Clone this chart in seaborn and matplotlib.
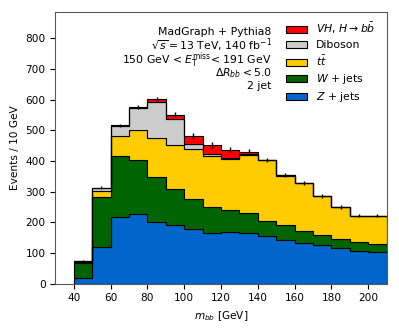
import numpy as np
import pandas as pd
import matplotlib
matplotlib.use("Agg")
import matplotlib.pyplot as plt
from matplotlib.patches import Patch
import seaborn as sns

# ---- data ----
bin_edges = list(range(40, 211, 10))
z_jets  = [18, 121, 217, 226, 202, 191, 177, 166, 168, 166, 155, 143, 133, 126, 117, 108, 102]
w_jets  = [50, 163, 200, 178, 145, 119,  98,  85,  73,  64,  51,  49,  40,  34,  29,  27,  26]
ttbar   = [ 3,  19,  66,  96, 128, 141, 164, 164, 164, 190, 196, 160, 155, 125, 103,  85,  92]
diboson = [ 2,   9,  32,  74, 118,  85,  18,   7,   6,   3,   1,   1,   1,   1,   1,   1,   1]
vh      = [ 2,   1,   1,   2,   8,  15,  24,  30,  26,   8, 0.5, 0.5, 0.5, 0.5, 0.5, 0.5, 0.5]
stat_err = [3, 5, 6, 6, 7, 9, 10, 10, 9, 8, 8, 7, 7, 6, 6, 5, 5]

labels = [r"$VH$, $H \rightarrow b\bar{b}$", "Diboson", r"$t\bar{t}$", r"$W$ + jets", r"$Z$ + jets"]
colors = ["#ff0000", "#cccccc", "#ffcc00", "#006400", "#0066cc"]
series = [vh, diboson, ttbar, w_jets, z_jets]

info_lines = ["MadGraph + Pythia8",
              r"$\sqrt{s} = 13$ TeV, 140 fb$^{-1}$",
              r"150 GeV < $E_{\mathrm{T}}^{\mathrm{miss}}$< 191 GeV",
              r"$\Delta R_{bb} < 5.0$",
              "2 jet"]

# ---- build frame ----
centers = [(a + b) / 2 for a, b in zip(bin_edges[:-1], bin_edges[1:])]
rows = []
for lab, vals in zip(labels, series):
    for c, v in zip(centers, vals):
        rows.append({"mbb": c, "events": v, "process": lab})
df = pd.DataFrame(rows)

plt.rcParams["font.family"] = ["DejaVu Sans"]
plt.rcParams["font.size"] = 7.6
plt.rcParams["mathtext.fontset"] = "dejavusans"

fig = plt.figure(figsize=(3.99, 3.32), dpi=100)
ax = fig.add_axes([0.139, 0.1455, 0.830, 0.8193])

sns.histplot(data=df, x="mbb", weights="events", hue="process",
             hue_order=labels, palette=dict(zip(labels, colors)),
             bins=bin_edges, multiple="stack", element="step",
             fill=True, alpha=1, edgecolor="black", linewidth=0.8,
             legend=False, ax=ax)

total = np.sum(np.array(series, dtype=float), axis=0)
ax.errorbar(centers, total, yerr=stat_err, fmt="none", ecolor="black",
            elinewidth=1.0, capsize=0)

ax.set_xlim(30, 210)
ax.set_ylim(0, 887)
ax.set_xticks(range(40, 201, 20))
ax.set_yticks(range(0, 801, 100))
ax.set_xlabel(r"$m_{bb}$ [GeV]")
ax.set_ylabel("Events / 10 GeV")
for s in ax.spines.values():
    s.set_color("0.35")
ax.tick_params(colors="black")

ypos = [0.9154, 0.8603, 0.8088, 0.7625, 0.7169]
for t, y in zip(info_lines, ypos):
    ax.text(0.653, y, t, transform=ax.transAxes, ha="right", va="baseline",
            fontsize=7.8)

handles = [Patch(facecolor=c, edgecolor="black", linewidth=0.8) for c in colors]
ax.legend(handles, labels, loc="upper left", bbox_to_anchor=(0.695, 0.965),
          frameon=False, borderpad=0, borderaxespad=0, handlelength=2.0,
          handletextpad=0.8, labelspacing=0.36, fontsize=7.8)

fig.savefig("out.png", dpi=100)
